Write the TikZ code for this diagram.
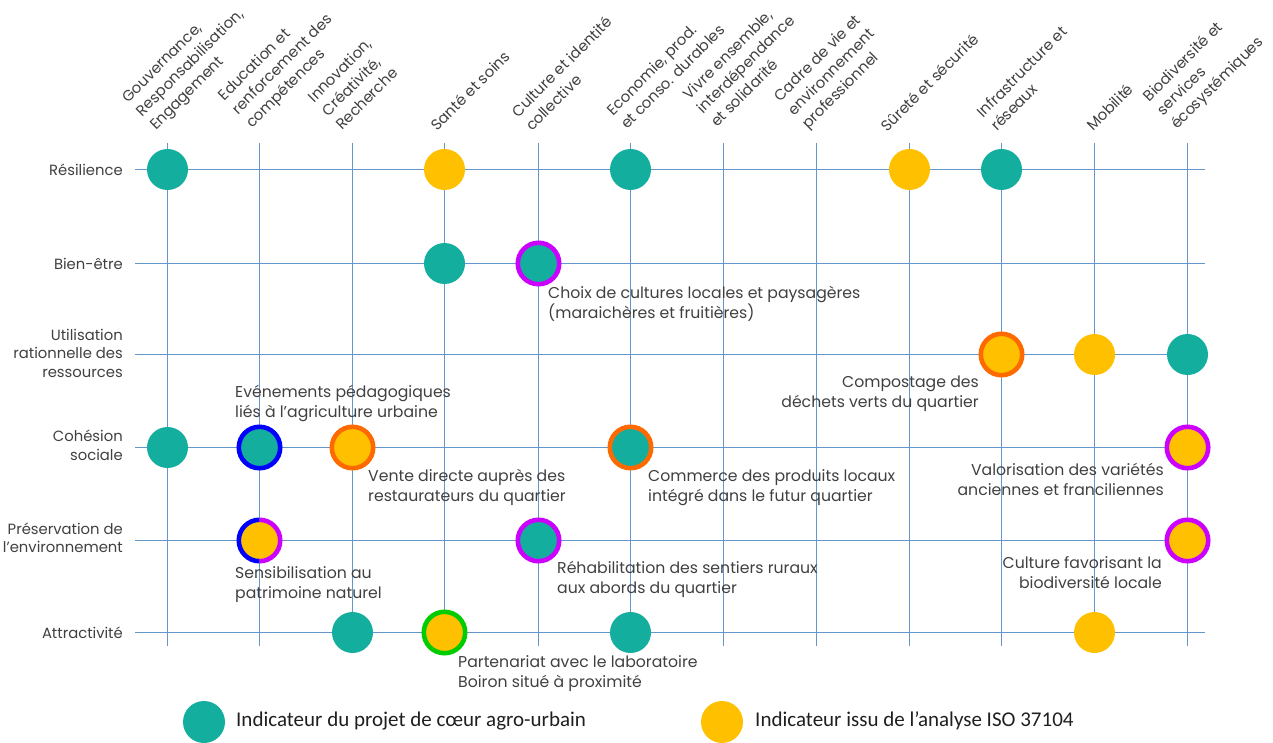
\documentclass[tikz,border=0pt]{standalone}
\usepackage{fontspec}
\setmainfont{Poppins}
\newfontfamily\legendfont{Carlito}
\definecolor{tealdot}{HTML}{13AE9E}
\definecolor{golddot}{HTML}{FFC000}
\definecolor{ringorange}{HTML}{FF6A00}
\definecolor{ringblue}{HTML}{0000FF}
\definecolor{ringpurple}{HTML}{CC00FF}
\definecolor{ringgreen}{HTML}{00CC00}
\definecolor{gridc}{HTML}{6397C9}
\definecolor{txt}{HTML}{404040}
\tikzset{
  gridline/.style={draw=gridc, line width=1.4},
  dotT/.style={circle, inner sep=0, minimum size=41, fill=tealdot},
  dotY/.style={circle, inner sep=0, minimum size=41, fill=golddot},
  ringed/.style={line width=4.6, minimum size=41.4, draw=#1},
  toplab/.style={inner sep=0, text=txt, rotate=45, anchor=base west, font=\fontsize{15}{19.5}\selectfont},
  rowlab/.style={inner sep=0, text=txt, anchor=east, font=\fontsize{14.8}{18.5}\selectfont},
  ann/.style={inner sep=0, text=txt, font=\fontsize{15.7}{20}\selectfont},
  legtext/.style={inner sep=0, anchor=west, text=black!88, font=\legendfont\fontsize{21}{22}\selectfont},
}
\begin{document}
\begin{tikzpicture}[x=1pt,y=-1pt]
\useasboundingbox (0,0) rectangle (1273,743);
% grid
\foreach \xx [count=\i from 0] in {167.5,259.5,352.5,444.5,538.5,630.5,723.5,816.5,909.5,1001.5,1094.5,1187.5}{
  \coordinate (vt\i) at (\xx,143);
  \coordinate (vb\i) at (\xx,646);
  \draw[gridline] (vt\i) -- (vb\i);
}
\foreach \yy [count=\j from 0] in {169.5,263.5,354.5,447.5,540.5,632.5}{
  \coordinate (hl\j) at (135,\yy);
  \coordinate (hr\j) at (1205,\yy);
  \draw[gridline] (hl\j) -- (hr\j);
}
% row labels
\node[rowlab] (r0) at (123,169.5) {R\'esilience};
\node[rowlab] (r1) at (123,263.5) {Bien-\^etre};
\node[rowlab] (r2) at (123,355) {\begin{tabular}{@{}r@{}}Utilisation\\rationnelle des\\ressources\end{tabular}};
\node[rowlab] (r3) at (123,447.5) {\begin{tabular}{@{}r@{}}Coh\'esion\\sociale\end{tabular}};
\node[rowlab] (r4) at (123,540) {\begin{tabular}{@{}r@{}}Pr\'eservation de\\l'environnement\end{tabular}};
\node[rowlab] (r5) at (123,632.5) {Attractivit\'e};
% column labels
\node[toplab] (k0) at (156,131) {\begin{tabular}[b]{@{}l@{}}Gouvernance,\\Responsabilisation,\\Engagement\end{tabular}};
\node[toplab] (k1) at (252,129) {\begin{tabular}[b]{@{}l@{}}Education et\\renforcement des\\comp\'etences\end{tabular}};
\node[toplab] (k2) at (342,131) {\begin{tabular}[b]{@{}l@{}}Innovation,\\Cr\'eativit\'e,\\Recherche\end{tabular}};
\node[toplab] (k3) at (437,132) {Sant\'e et soins};
\node[toplab] (k4) at (532,132) {\begin{tabular}[b]{@{}l@{}}Culture et identit\'e\\collective\end{tabular}};
\node[toplab] (k5) at (627,130) {\begin{tabular}[b]{@{}l@{}}Economie, prod.\\et conso. durables\end{tabular}};
\node[toplab] (k6) at (717,128) {\begin{tabular}[b]{@{}l@{}}Vivre ensemble,\\interd\'ependance\\et solidarit\'e\end{tabular}};
\node[toplab] (k7) at (808,130) {\begin{tabular}[b]{@{}l@{}}Cadre de vie et\\environnement\\professionnel\end{tabular}};
\node[toplab] (k8) at (887,133) {S\^uret\'e et s\'ecurit\'e};
\node[toplab] (k9) at (997,132) {\begin{tabular}[b]{@{}l@{}}Infrastructure et\\r\'eseaux\end{tabular}};
\node[toplab] (k10) at (1093,132) {Mobilit\'e};
\node[toplab] (k11) at (1177,130) {\begin{tabular}[b]{@{}l@{}}Biodiversit\'e et\\services\\\'ecosyst\'emiques\end{tabular}};
% dots: row 0
\node[dotT] (d00) at (vt0 |- hl0) {};
\node[dotY] (d03) at (vt3 |- hl0) {};
\node[dotT] (d05) at (vt5 |- hl0) {};
\node[dotY] (d08) at (vt8 |- hl0) {};
\node[dotT] (d09) at (vt9 |- hl0) {};
% row 1
\node[dotT] (d13) at (vt3 |- hl1) {};
\node[dotT, ringed=ringpurple] (d14) at (vt4 |- hl1) {};
% row 2
\node[dotY, ringed=ringorange] (d29) at (vt9 |- hl2) {};
\node[dotY] (d210) at (vt10 |- hl2) {};
\node[dotT] (d211) at (vt11 |- hl2) {};
% row 3
\node[dotT] (d30) at (vt0 |- hl3) {};
\node[dotT, ringed=ringblue] (d31) at (vt1 |- hl3) {};
\node[dotY, ringed=ringorange] (d32) at (vt2 |- hl3) {};
\node[dotT, ringed=ringorange] (d35) at (vt5 |- hl3) {};
\node[dotY, ringed=ringpurple] (d311) at (vt11 |- hl3) {};
% row 4
\node[dotY, minimum size=41.4] (d41) at (vt1 |- hl4) {};
\draw[ringblue, line width=4.6] ([shift={(0,20.7)}]d41.center) arc[start angle=90, end angle=270, radius=20.7];
\draw[ringpurple, line width=4.6] ([shift={(0,-20.7)}]d41.center) arc[start angle=-90, end angle=90, radius=20.7];
\node[dotT, ringed=ringpurple] (d44) at (vt4 |- hl4) {};
\node[dotY, ringed=ringpurple] (d411) at (vt11 |- hl4) {};
% row 5
\node[dotT] (d52) at (vt2 |- hl5) {};
\node[dotY, ringed=ringgreen] (d53) at (vt3 |- hl5) {};
\node[dotT] (d55) at (vt5 |- hl5) {};
\node[dotY] (d510) at (vt10 |- hl5) {};
% annotations
\node[ann, anchor=base west] (a1) at (548,298) {\begin{tabular}[t]{@{}l@{}}Choix de cultures locales et paysag\`eres\\(maraich\`eres et fruiti\`eres)\end{tabular}};
\node[ann, anchor=base west] (a2) at (235,397) {\begin{tabular}[t]{@{}l@{}}Ev\'enements p\'edagogiques\\li\'es \`a l'agriculture urbaine\end{tabular}};
\node[ann, anchor=base west] (a3) at (368,481) {\begin{tabular}[t]{@{}l@{}}Vente directe aupr\`es des\\restaurateurs du quartier\end{tabular}};
\node[ann, anchor=base west] (a4) at (648,481) {\begin{tabular}[t]{@{}l@{}}Commerce des produits locaux\\int\'egr\'e dans le futur quartier\end{tabular}};
\node[ann, anchor=base east] (a5) at (979,387) {\begin{tabular}[t]{@{}r@{}}Compostage des\\d\'echets verts du quartier\end{tabular}};
\node[ann, anchor=base east] (a6) at (1164,475) {\begin{tabular}[t]{@{}r@{}}Valorisation des vari\'et\'es\\anciennes et franciliennes\end{tabular}};
\node[ann, anchor=base west] (a7) at (235,578) {\begin{tabular}[t]{@{}l@{}}Sensibilisation au\\patrimoine naturel\end{tabular}};
\node[ann, anchor=base west] (a8) at (557,573) {\begin{tabular}[t]{@{}l@{}}R\'ehabilitation des sentiers ruraux\\aux abords du quartier\end{tabular}};
\node[ann, anchor=base east] (a9) at (1162,568) {\begin{tabular}[t]{@{}r@{}}Culture favorisant la\\biodiversit\'e locale\end{tabular}};
\node[ann, anchor=base west] (a10) at (458,667) {\begin{tabular}[t]{@{}l@{}}Partenariat avec le laboratoire\\Boiron situ\'e \`a proximit\'e\end{tabular}};
% legend
\node[circle, inner sep=0, minimum size=42, fill=tealdot] (lg1) at (204,722) {};
\node[legtext] (lt1) at (236,721) {Indicateur du projet de cœur agro-urbain};
\node[circle, inner sep=0, minimum size=42, fill=golddot] (lg2) at (722,722) {};
\node[legtext] (lt2) at (755,721) {Indicateur issu de l’analyse ISO 37104};
\end{tikzpicture}
\end{document}
